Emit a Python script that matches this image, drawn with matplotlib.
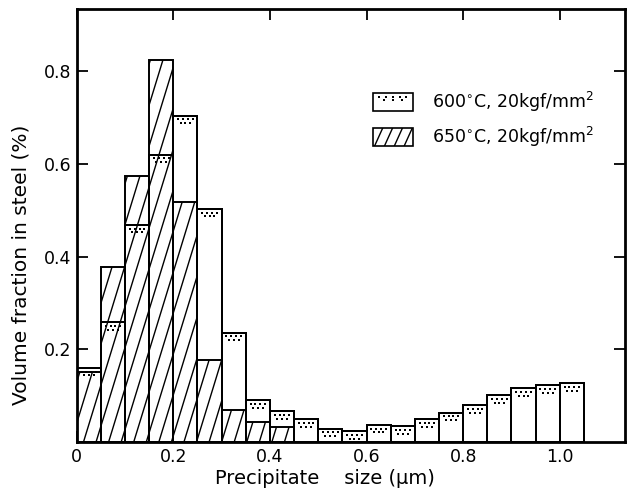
import numpy as np
import matplotlib
matplotlib.use('Agg')
import matplotlib.pyplot as plt
from matplotlib.patches import Rectangle
from matplotlib.path import Path

# bin left edges (um), bin width 0.05
bin_left = [0.00, 0.05, 0.10, 0.15, 0.20, 0.25, 0.30, 0.35, 0.40, 0.45, 0.50,
            0.55, 0.60, 0.65, 0.70, 0.75, 0.80, 0.85, 0.90, 0.95, 1.00]
BIN_W = 0.05

# volume fraction (%)
frac_600 = [0.160, 0.258, 0.468, 0.620, 0.704, 0.503, 0.236, 0.090, 0.066, 0.049, 0.029,
            0.023, 0.037, 0.034, 0.049, 0.063, 0.079, 0.101, 0.116, 0.122, 0.127]
frac_650 = [0.152, 0.378, 0.573, 0.825, 0.518, 0.177, 0.069, 0.044, 0.033]

label_600 = '600$^{\\circ}$C, 20kgf/mm$^2$'
label_650 = '650$^{\\circ}$C, 20kgf/mm$^2$'

x_ticks = [0, 0.2, 0.4, 0.6, 0.8, 1.0]
x_ticklabels = ['0', '0.2', '0.4', '0.6', '0.8', '1.0']
y_ticks = [0.2, 0.4, 0.6, 0.8]
y_ticklabels = ['0.2', '0.4', '0.6', '0.8']

plt.rcParams['font.family'] = ['DejaVu Sans']
plt.rcParams['mathtext.fontset'] = 'dejavusans'

fig = plt.figure(figsize=(6.29, 4.93), dpi=100)
ax = fig.add_axes([0.122, 0.1035, 0.8716, 0.878])
ax.set_xlim(0, 1.135)
ax.set_ylim(0, 0.934)

# 600 C: white boxes underneath
ax.bar(bin_left, frac_600, width=BIN_W, align='edge', facecolor='white',
       edgecolor='k', lw=1.4, zorder=1)

# 650 C: outlined boxes with steep hand-style hatching
bars650 = ax.bar(bin_left[:len(frac_650)], frac_650, width=BIN_W, align='edge',
                 facecolor='none', edgecolor='k', lw=1.4, zorder=2)
clip = Path.make_compound_path(*[b.get_path().transformed(b.get_patch_transform())
                                 for b in bars650])
slope = 3.4  # data units of y per unit of x
yy = np.array([0.0, 1.0])
for c in np.arange(-0.35, 0.5, 0.026):
    ln, = ax.plot(c + yy / slope, yy, color='k', lw=1.0, zorder=2)
    ln.set_clip_path(clip, ax.transData)

# 600 C outlines on top plus the dotted band just under each top
ax.bar(bin_left, frac_600, width=BIN_W, align='edge', facecolor='none',
       edgecolor='k', lw=1.4, zorder=3)
for x0, h in zip(bin_left, frac_600):
    xs1 = x0 + BIN_W * np.array([0.2, 0.4, 0.6, 0.8])
    xs2 = x0 + BIN_W * np.array([0.3, 0.5, 0.7])
    ax.scatter(xs1, np.full(4, h - 0.008), s=2.5, marker='s', color='k', lw=0, zorder=4)
    ax.scatter(xs2, np.full(3, h - 0.016), s=2.5, marker='s', color='k', lw=0, zorder=4)

# legend, drawn by hand
tr = ax.transAxes
box1 = Rectangle((0.540, 0.764), 0.073, 0.042, transform=tr, facecolor='white',
                 edgecolor='k', lw=1.2, zorder=5)
ax.add_patch(box1)
for fx in np.linspace(0.552, 0.601, 5):
    ax.scatter([fx], [0.797], s=2.5, marker='s', color='k', lw=0, transform=tr, zorder=6)
for fx in np.linspace(0.560, 0.594, 3):
    ax.scatter([fx], [0.789], s=2.5, marker='s', color='k', lw=0, transform=tr, zorder=6)
ax.text(0.648, 0.785, label_600, transform=tr, fontsize=12.5, va='center', ha='left')

box2 = Rectangle((0.540, 0.683), 0.073, 0.042, transform=tr, facecolor='white',
                 edgecolor='k', lw=1.2, zorder=5)
ax.add_patch(box2)
for c in np.arange(0.525, 0.62, 0.018):
    ln, = ax.plot([c, c + 0.015], [0.683, 0.725], color='k', lw=1.0,
                  transform=tr, zorder=6)
    ln.set_clip_path(box2)
ax.text(0.648, 0.704, label_650, transform=tr, fontsize=12.5, va='center', ha='left')

ax.set_xticks(x_ticks)
ax.set_xticklabels(x_ticklabels)
ax.set_yticks(y_ticks)
ax.set_yticklabels(y_ticklabels)
ax.tick_params(direction='in', length=8, width=1.3, labelsize=12.5,
               top=True, right=True, pad=4)
for s in ax.spines.values():
    s.set_linewidth(2)

ax.set_xlabel('Precipitate    size (\u03bcm)', fontsize=14)
ax.set_ylabel('Volume fraction in steel (%)', fontsize=14.5)
ax.xaxis.set_label_coords(0.453, -0.062)
ax.yaxis.set_label_coords(-0.085, 0.41)

fig.savefig('out.png', dpi=100)
